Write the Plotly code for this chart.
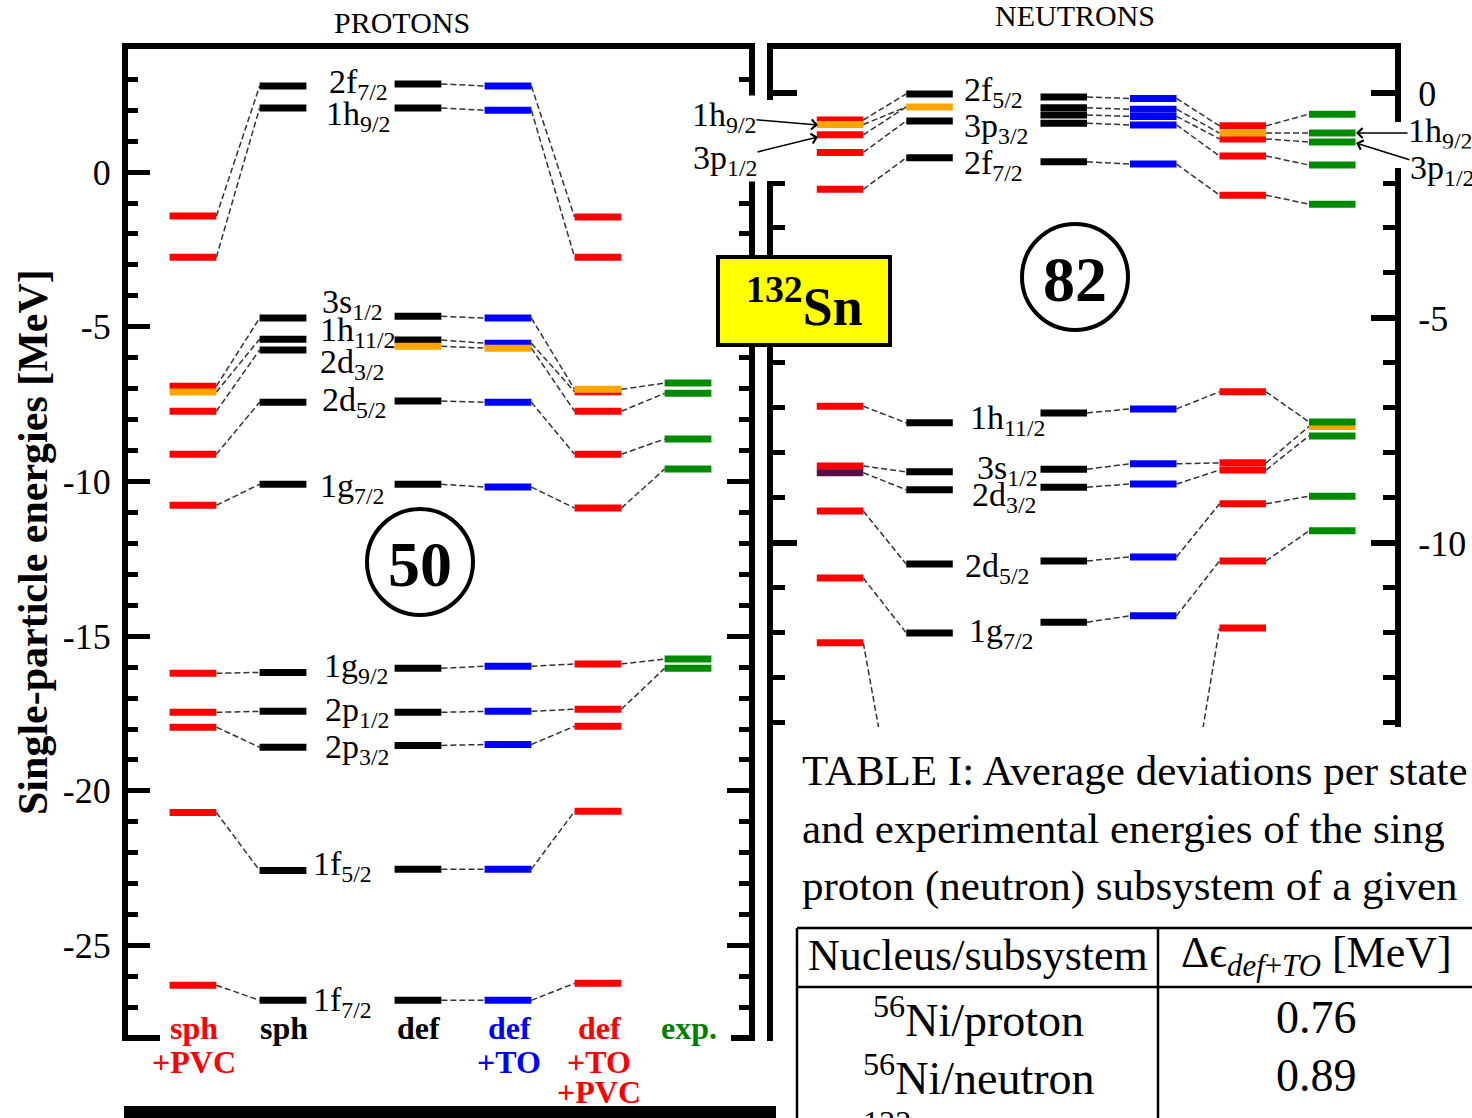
import plotly.graph_objects as go

W, H = 1472, 1118
def px(x): return x / W
def py(y): return 1 - y / H

SERIF = "Liberation Serif"

# ---------------- data ----------------
col_pos = [0.0, 1.0, 2.5, 3.5, 4.5, 5.5]  # sph+PVC, sph, def, def+TO, def+TO+PVC, exp.
col_label_lines = [["sph", "+PVC"], ["sph"], ["def"], ["def", "+TO"], ["def", "+TO", "+PVC"], ["exp."]]
col_label_colors = ["red", "black", "black", "blue", "red", "green"]

# Protons (MeV)
p_sph_pvc = [-1.42, -2.75, -6.92, -7.11, -7.73, -9.12, -10.77, -16.20, -17.46, -17.94, -20.70, -26.28]
p_sph_pvc_c = ["r", "r", "r", "o", "r", "r", "r", "r", "r", "r", "r", "r"]
p_sph = [2.78, 2.07, -4.72, -5.40, -5.75, -7.44, -10.09, -16.17, -17.43, -18.59, -22.57, -26.77]
p_sph_c = ["k"] * 12
p_def = [2.85, 2.07, -4.66, -5.43, -5.63, -7.40, -10.09, -16.04, -17.46, -18.53, -22.53, -26.77]
p_def_c = ["k", "k", "k", "k", "o", "k", "k", "k", "k", "k", "k", "k"]
p_def_to = [2.78, 2.00, -4.72, -5.53, -5.69, -7.44, -10.18, -15.97, -17.43, -18.50, -22.53, -26.77]
p_def_to_c = ["b", "b", "b", "b", "o", "b", "b", "b", "b", "b", "b", "b"]
p_def_to_pvc = [-1.45, -2.75, -7.02, -7.10, -7.73, -9.12, -10.86, -15.90, -17.36, -17.91, -20.66, -26.22]
p_def_to_pvc_c = ["r", "r", "o", "r", "r", "r", "r", "r", "r", "r", "r", "r"]
p_exp = [-6.82, -7.15, -8.63, -9.60, -15.74, -16.04]
p_exp_c = ["g"] * 6

p_links = [
    (0, 1, [(i, i) for i in range(12)]),
    (2, 3, [(i, i) for i in range(12)]),
    (3, 4, [(i, i) for i in range(12)]),
    (4, 5, [(2, 0), (4, 1), (5, 2), (6, 3), (7, 4), (8, 5)]),
]

p_state_labels = ["2f<sub>7/2</sub>", "1h<sub>9/2</sub>", "3s<sub>1/2</sub>", "1h<sub>11/2</sub>",
                  "2d<sub>3/2</sub>", "2d<sub>5/2</sub>", "1g<sub>7/2</sub>", "1g<sub>9/2</sub>",
                  "2p<sub>1/2</sub>", "2p<sub>3/2</sub>", "1f<sub>5/2</sub>", "1f<sub>7/2</sub>"]

# Neutrons (MeV)
n_sph_pvc = [-0.60, -0.70, -0.93, -1.32, -2.14, -6.96, -8.29, -8.44, -9.29, -10.78, -12.22]
n_sph_pvc_c = ["r", "o", "r", "r", "r", "r", "r", "p", "r", "r", "r"]
n_sph = [-0.02, -0.31, -0.62, -1.44, -7.33, -8.42, -8.82, -10.47, -12.00, -17.50]
n_sph_c = ["k", "o", "k", "k", "k", "k", "k", "k", "k", "k"]
n_def = [-0.09, -0.33, -0.49, -0.67, -1.53, -7.11, -8.36, -8.76, -10.40, -11.76, -17.60]
n_def_c = ["k"] * 11
n_def_to = [-0.12, -0.36, -0.52, -0.71, -1.58, -7.02, -8.24, -8.69, -10.31, -11.62, -17.67]
n_def_to_c = ["b"] * 11
n_def_to_pvc = [-0.73, -0.89, -1.02, -1.40, -2.27, -6.64, -8.22, -8.38, -9.13, -10.40, -11.89]
n_def_to_pvc_c = ["r", "o", "r", "r", "r", "r", "r", "r", "r", "r", "r"]
n_exp = [-0.47, -0.89, -1.09, -1.60, -2.47, -7.31, -7.41, -7.62, -8.96, -9.73]
n_exp_c = ["g", "g", "g", "g", "g", "g", "o", "g", "g", "g"]

n_links = [
    (0, 1, [(0, 0), (1, 1), (2, 1), (3, 2), (4, 3), (5, 4), (6, 5), (7, 6), (8, 7), (9, 8), (10, 9)]),
    (2, 3, [(i, i) for i in range(11)]),
    (3, 4, [(i, i) for i in range(11)]),
    (4, 5, [(i, i) for i in range(10)]),
]

n_state_labels = ["2f<sub>5/2</sub>", "3p<sub>3/2</sub>", "2f<sub>7/2</sub>", "1h<sub>11/2</sub>",
                  "3s<sub>1/2</sub>", "2d<sub>3/2</sub>", "2d<sub>5/2</sub>", "1g<sub>7/2</sub>"]

p_tickvals = [0, -5, -10, -15, -20, -25]
p_ticktext = ["0", "-5", "-10", "-15", "-20", "-25"]
n_tickvals = [0, -5, -10]
n_ticktext = ["0", "-5", "-10"]

table_caption = ["TABLE I: Average deviations per state",
                 "and experimental energies of the sing",
                 "proton (neutron) subsystem of a given"]
table_header = ["Nucleus/subsystem", "Δϵ<sub><i>def</i>+<i>TO</i></sub> [MeV]"]
table_rows = [["<sup>56</sup>Ni/proton", "0.76"], ["<sup>56</sup>Ni/neutron", "0.89"],
              ["<sup>132</sup>Sn/proton", ""]]

# ---------------- drawing ----------------
COL = {"r": "#ff0000", "o": "#ffa500", "k": "#000000", "b": "#0000ff",
       "g": "#008a00", "p": "#5a0a45"}
ORDER = ["r", "k", "b", "o", "p", "g"]
HALF = 0.26

fig = go.Figure()

def draw_panel(levels, colors, links, xa, ya):
    xs, ys = [], []
    for a, b, pairs in links:
        for i, j in pairs:
            xs += [col_pos[a] + HALF, col_pos[b] - HALF, None]
            ys += [levels[a][i], levels[b][j], None]
    fig.add_trace(go.Scatter(x=xs, y=ys, mode="lines", xaxis=xa, yaxis=ya,
                             line=dict(color="#333333", width=1.5, dash="6px,3px"),
                             hoverinfo="skip", showlegend=False))
    for ck in ORDER:
        xs, ys = [], []
        for c, (lv, cl) in enumerate(zip(levels, colors)):
            for e, k in zip(lv, cl):
                if k == ck:
                    xs += [col_pos[c] - HALF, col_pos[c] + HALF, None]
                    ys += [e, e, None]
        if xs:
            fig.add_trace(go.Scatter(x=xs, y=ys, mode="lines", xaxis=xa, yaxis=ya,
                                     line=dict(color=COL[ck], width=7),
                                     hoverinfo="skip", showlegend=False))

draw_panel([p_sph_pvc, p_sph, p_def, p_def_to, p_def_to_pvc, p_exp],
           [p_sph_pvc_c, p_sph_c, p_def_c, p_def_to_c, p_def_to_pvc_c, p_exp_c],
           p_links, "x", "y")
draw_panel([n_sph_pvc, n_sph, n_def, n_def_to, n_def_to_pvc, n_exp],
           [n_sph_pvc_c, n_sph_c, n_def_c, n_def_to_c, n_def_to_pvc_c, n_exp_c],
           n_links, "x2", "y2")

axis_common = dict(showgrid=False, zeroline=False, linecolor="black", fixedrange=True)

fig.update_layout(
    width=W, height=H, margin=dict(l=0, r=0, t=0, b=0),
    paper_bgcolor="white", plot_bgcolor="rgba(0,0,0,0)", showlegend=False,
    xaxis=dict(domain=[px(128), px(749)], range=[-0.722, 6.178], showticklabels=False,
               ticks="", showline=True, mirror=True, linewidth=6, anchor="y", **axis_common),
    yaxis=dict(domain=[py(1035), py(49)], range=[-27.89, 3.978], anchor="x",
               showline=True, linewidth=6, mirror="ticks", ticks="inside", ticklen=22,
               tickwidth=5, tickcolor="black", tickmode="array", tickvals=p_tickvals,
               ticktext=p_ticktext, ticklabelstandoff=4,
               tickfont=dict(family=SERIF, size=36, color="black"),
               minor=dict(ticks="inside", tickmode="linear", tick0=0, dtick=1, ticklen=10,
                          tickwidth=5, tickcolor="black"), **axis_common),
    xaxis2=dict(domain=[px(773), px(1395)], range=[-0.749, 6.201], anchor="y2", side="top",
                showticklabels=False, ticks="", showline=True, mirror=False, linewidth=6,
                **axis_common),
    yaxis2=dict(domain=[py(727), py(49)], range=[-14.09, 0.978], anchor="x2", side="right",
                showline=True, linewidth=6, mirror="ticks", ticks="inside", ticklen=24,
                tickwidth=6, tickcolor="black", tickmode="array", tickvals=n_tickvals,
                ticktext=n_ticktext, ticklabelstandoff=10,
                tickfont=dict(family=SERIF, size=36, color="black"),
                minor=dict(ticks="inside", tickmode="linear", tick0=0, dtick=1, ticklen=12,
                           tickwidth=5, tickcolor="black"), **axis_common),
)

shapes = []
ann = []

def rect(x0, y0, x1, y1, fill="white", lw=0, lc="black"):
    shapes.append(dict(type="rect", xref="paper", yref="paper", x0=px(x0), x1=px(x1),
                       y0=py(y1), y1=py(y0), fillcolor=fill, layer="above",
                       line=dict(width=lw, color=lc)))

def line(x0, y0, x1, y1, w=2.5):
    shapes.append(dict(type="line", xref="paper", yref="paper", x0=px(x0), x1=px(x1),
                       y0=py(y0), y1=py(y1), layer="above", line=dict(width=w, color="black")))

def text(x, y, s, size, color="black", xanchor="center", yanchor="middle", **kw):
    ann.append(dict(xref="paper", yref="paper", x=px(x), y=py(y), text=s, showarrow=False,
                    xanchor=xanchor, yanchor=yanchor,
                    font=dict(family=SERIF, size=size, color=color), **kw))

# hide bottom frame where category labels are, and axis gaps
rect(160, 1030, 731, 1046)
rect(722, 100, 793, 181)
rect(1378, 122, 1408, 168)
# neutron left line continuing down
line(770, 727, 770, 1041, w=6)
# black bar at the bottom
rect(124, 1106, 776, 1118, fill="black")
# 132Sn box
rect(718, 257, 890, 345, fill="#ffff00", lw=4)
text(804, 302, "<b><sup>132</sup>Sn</b>", 54)
# magic-number circles
for cx, cy, lab in [(420, 562, "50"), (1075, 277, "82")]:
    shapes.append(dict(type="circle", xref="paper", yref="paper", x0=px(cx - 53), x1=px(cx + 53),
                       y0=py(cy + 53), y1=py(cy - 53), layer="above",
                       line=dict(width=4, color="black")))
    text(cx, cy + 2, "<b>" + lab + "</b>", 64)

# titles
text(402, 22, "PROTONS", 30)
text(1075, 15, "NEUTRONS", 30)
text(33, 542, "<b>Single-particle energies [MeV]</b>", 42, textangle=-90)

# column labels (protons panel bottom)
line_y = [1028, 1062, 1092]
for c, (lines_, colr) in enumerate(zip(col_label_lines, col_label_colors)):
    for k, s in enumerate(lines_):
        xpix = 194 + 90 * col_pos[c]
        text(xpix, line_y[k], "<b>" + s + "</b>", 32, color=colr)

# state labels
p_lab_pos = [(327, 84), (324, 116), (320, 304), (318, 332), (318, 364), (320, 402),
             (318, 488), (322, 668), (323, 712), (323, 749), (311, 866), (311, 1002)]
for s, (x, y) in zip(p_state_labels, p_lab_pos):
    text(x, y, s, 34, xanchor="left")
n_lab_pos = [(962, 92), (962, 128), (962, 165), (968, 420), (975, 470), (970, 497),
             (963, 568), (967, 633)]
for s, (x, y) in zip(n_state_labels, n_lab_pos):
    text(x, y, s, 34, xanchor="left")

# arrow labels
def arrow_label(s, hx, hy, tx, ty):
    ann.append(dict(xref="paper", yref="paper", x=px(hx), y=py(hy), text=s, showarrow=True,
                    axref="pixel", ayref="pixel", ax=tx - hx, ay=ty - hy,
                    arrowhead=4, arrowsize=1.3, arrowwidth=1.5, arrowcolor="black",
                    bgcolor="white", borderpad=0,
                    font=dict(family=SERIF, size=34, color="black")))
arrow_label("1h<sub>9/2</sub>", 818, 125, 724, 117)
arrow_label("3p<sub>1/2</sub>", 818, 137, 725, 160)
arrow_label("1h<sub>9/2</sub>", 1356, 133, 1440, 133)
arrow_label("3p<sub>1/2</sub>", 1356, 143, 1442, 170)

# table fragment
for k, s in enumerate(table_caption):
    text(800, 770 + 58 * k, s, 43, xanchor="left")
line(797, 928, 1472, 928)
line(797, 987, 1472, 987)
line(797, 928, 797, 1118)
line(1158, 928, 1158, 1118)
text(978, 955, table_header[0], 44)
text(1316, 955, table_header[1], 44)
for k, (a, b) in enumerate(table_rows):
    text(978, 1017 + 58 * k, a, 46)
    if b:
        text(1316, 1017 + 58 * k, b, 46)

fig.update_layout(shapes=shapes, annotations=ann)
fig.write_html("out.html")
